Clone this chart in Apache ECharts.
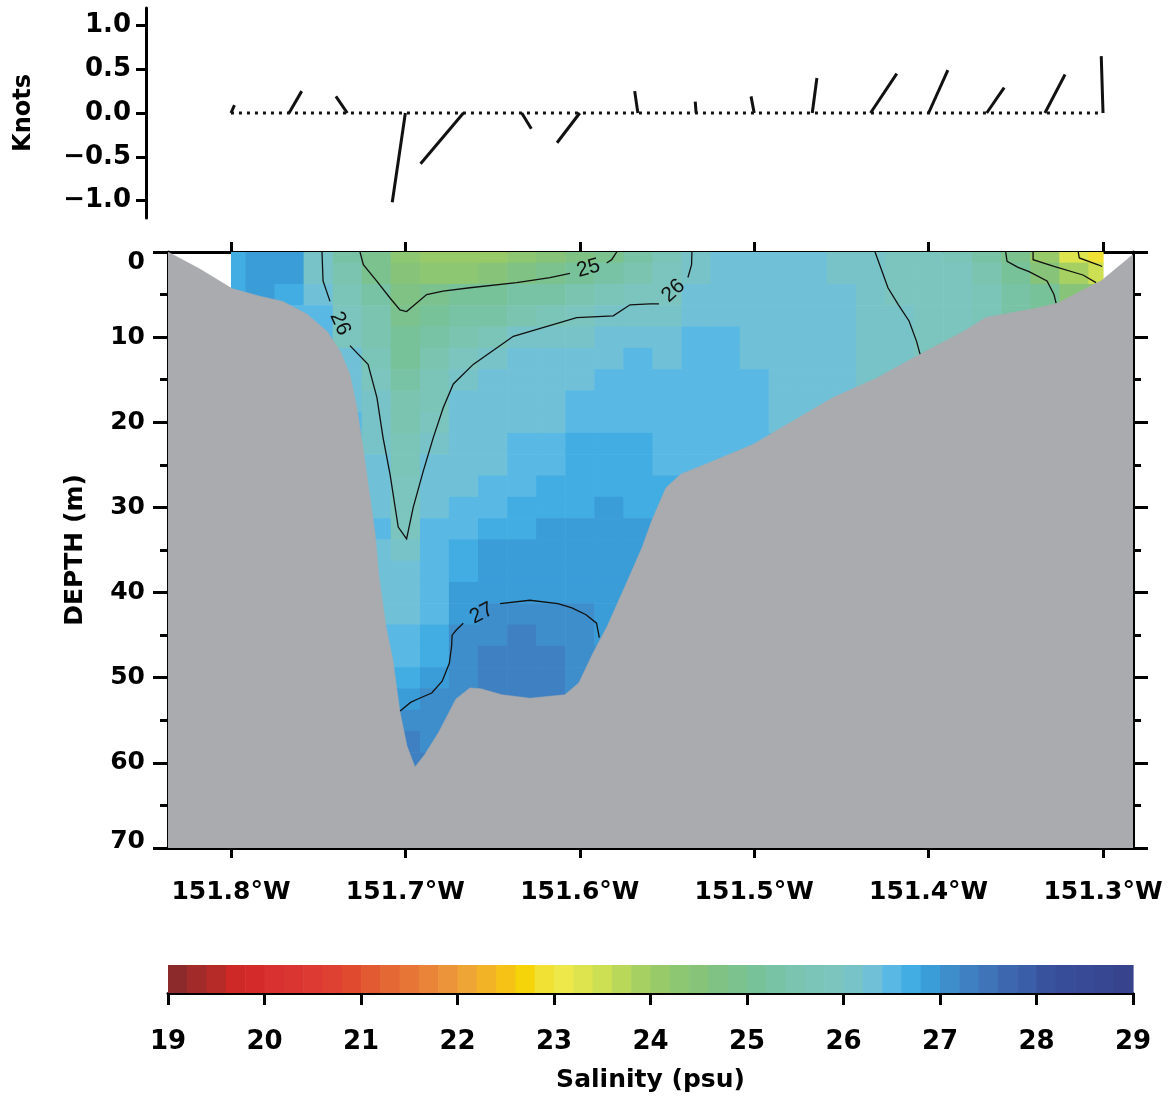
<!DOCTYPE html>
<html><head><meta charset="utf-8">
<script src="https://cdn.jsdelivr.net/npm/echarts@6/dist/echarts.min.js"></script>
<style>html,body{margin:0;padding:0;background:#fff}#chart{width:1171px;height:1099px}</style>
</head><body><div id="chart"></div>
<script>
// ================= DATA =================
// current sticks (top panel): station longitudes (deg W), east (u) and north (v) components in knots
const stationLon = [151.8, 151.7667, 151.7333, 151.7, 151.6667, 151.6333, 151.6, 151.5667,
                    151.5333, 151.5, 151.4667, 151.4333, 151.4, 151.3667, 151.3333, 151.3];
const currentU = [0.04, 0.145, -0.13, -0.15, -0.49, 0.11, -0.26, -0.036,
                  -0.01, -0.036, 0.053, 0.30, 0.22, 0.20, 0.23, -0.02];
const currentV = [0.09, 0.25, 0.19, -1.02, -0.58, -0.18, -0.34, 0.25,
                  0.13, 0.19, 0.40, 0.45, 0.49, 0.29, 0.44, 0.65];

// tick values
const knotTicks = [-1, -0.5, 0, 0.5, 1];
const lonTicks = [151.8, 151.7, 151.6, 151.5, 151.4, 151.3];

// salinity colour scale: 50 bins of 0.2 psu from 19 to 29
const salMin = 19, salStep = 0.2;
const salPalette = [
  '#8C2A2B','#A22A28','#B62B27','#CE2927','#D52A2A','#D93030','#DB3532','#DC3A33','#DE4131','#E04B30',
  '#E25A31','#E46834','#E67536','#E98438','#EC9439','#EFA535','#F2B426','#F5C215','#F5D40A','#F2E135',
  '#EEE84A','#DDE44E','#CDE053','#B9D85A','#A6D062','#98CA69','#8EC771','#87C47A','#80C283','#7BC28E',
  '#78C299','#78C3A5','#7AC4B0','#7BC4B8','#7CC5BE','#78C3C8','#70C1D7','#5AB8E4','#42ADE3','#3B9DD8',
  '#3E8ECC','#3E80C1','#3F74B8','#3D68AF','#3B5EA8','#39529D','#384D99','#384995','#374791','#37438C'
];

// salinity section grid: column longitudes (deg W), row depths (m)
const gridLon = [151.8, 151.7833, 151.7667, 151.75, 151.7333, 151.7167, 151.7, 151.6833, 151.6667,
  151.65, 151.6333, 151.6167, 151.6, 151.5833, 151.5667, 151.55, 151.5333, 151.5167, 151.5,
  151.4833, 151.4667, 151.45, 151.4333, 151.4167, 151.4, 151.3833, 151.3667, 151.35, 151.3333,
  151.3167, 151.3];
const gridDepth = [0, 2.5, 5, 7.5, 10, 12.5, 15, 17.5, 20, 22.5, 25, 27.5, 30, 32.5, 35, 37.5,
  40, 42.5, 45, 47.5, 50, 52.5, 55, 57.5, 60];
// salinity (psu), one list per column, from the surface down to the sea floor
const salinity = [
  [26.7, 26.7, 26.7],
  [26.9, 26.9, 26.9],
  [26.9, 26.9, 26.7, 26.5],
  [26.1, 26.1, 26.3, 26.5, 26.5],
  [25.3, 25.5, 25.7, 25.8, 25.9, 26.3, 26.3, 26.3, 26.5, 26.5],
  [24.9, 24.9, 25.2, 25.4, 25.5, 25.7, 25.9, 26.1, 26.1, 26.1, 26.3, 26.3, 26.3, 26.5, 26.3, 26.3, 26.3, 26.3, 26.5, 26.5],
  [24.3, 24.5, 24.7, 24.9, 25.1, 25.1, 25.3, 25.5, 25.5, 25.7, 25.7, 25.9, 25.9, 25.9, 26.1, 26.3, 26.3, 26.3, 26.5, 26.5, 26.7, 26.9, 27.1, 27.3, 27.3],
  [24.1, 24.3, 24.9, 25.1, 25.3, 25.5, 25.7, 25.7, 25.9, 26.1, 26.3, 26.3, 26.3, 26.5, 26.5, 26.5, 26.5, 26.5, 26.7, 26.7, 26.9, 27.1, 27.1, 27.1, 27.3],
  [24.1, 24.3, 25.1, 25.3, 25.5, 25.9, 26.1, 26.3, 26.3, 26.3, 26.3, 26.3, 26.5, 26.5, 26.7, 26.7, 26.9, 26.9, 27.1, 27.1, 27.1, 27.1, 27.1],
  [24.1, 24.5, 25.1, 25.3, 25.7, 26.1, 26.3, 26.3, 26.3, 26.3, 26.3, 26.5, 26.5, 26.7, 26.9, 26.9, 26.9, 27.1, 27.1, 27.3, 27.3, 27.3],
  [24.3, 24.7, 25.3, 25.5, 26.1, 26.3, 26.3, 26.3, 26.3, 26.5, 26.5, 26.5, 26.7, 26.7, 26.9, 26.9, 26.9, 27.1, 27.3, 27.3, 27.3, 27.3],
  [24.5, 24.9, 25.3, 25.7, 26.1, 26.3, 26.3, 26.3, 26.3, 26.5, 26.5, 26.7, 26.7, 26.9, 26.9, 26.9, 26.9, 27.1, 27.1, 27.3, 27.3, 27.3],
  [24.7, 25.1, 25.5, 25.9, 26.1, 26.3, 26.3, 26.5, 26.5, 26.7, 26.7, 26.7, 26.7, 26.9, 26.9, 26.9, 26.9, 27.1, 27.1, 27.1, 27.1, 27.1],
  [24.9, 25.3, 25.7, 26.1, 26.3, 26.3, 26.5, 26.5, 26.5, 26.7, 26.7, 26.7, 26.9, 26.9, 26.9, 26.9, 26.9, 26.9, 26.9, 27.1],
  [25.3, 25.5, 25.9, 26.1, 26.3, 26.5, 26.5, 26.5, 26.5, 26.7, 26.7, 26.7, 26.7, 26.9, 26.9, 26.9, 26.9],
  [25.7, 25.9, 25.9, 26.1, 26.3, 26.3, 26.5, 26.5, 26.5, 26.5, 26.5, 26.7, 26.7, 26.9],
  [26.1, 26.1, 26.3, 26.3, 26.5, 26.5, 26.5, 26.5, 26.5, 26.5, 26.5],
  [26.3, 26.3, 26.3, 26.3, 26.5, 26.5, 26.5, 26.5, 26.5, 26.5, 26.5],
  [26.3, 26.3, 26.3, 26.3, 26.3, 26.3, 26.5, 26.5, 26.5, 26.5],
  [26.3, 26.3, 26.3, 26.3, 26.3, 26.3, 26.3, 26.3, 26.3, 26.5],
  [26.3, 26.3, 26.3, 26.3, 26.3, 26.3, 26.3, 26.3, 26.3],
  [26.1, 26.1, 26.3, 26.3, 26.3, 26.3, 26.3, 26.3],
  [26.1, 26.1, 26.1, 26.1, 26.1, 26.1, 26.1],
  [25.9, 25.9, 25.9, 26.1, 26.1, 26.1, 26.1],
  [25.9, 25.9, 25.9, 25.9, 25.9, 25.9],
  [25.7, 25.9, 25.9, 25.9, 25.9],
  [25.3, 25.5, 25.7, 25.7, 25.7],
  [24.9, 25.1, 25.3, 25.3],
  [24.1, 24.5, 25.1, 25.1],
  [23.3, 23.9, 24.5],
  [22.9, 23.5, 24.3]
];

// sea floor profile
const bathyLon = [151.8361, 151.8178, 151.7994, 151.7834, 151.7702, 151.7564, 151.745, 151.7375,
  151.7318, 151.7278, 151.7243, 151.7203, 151.7174, 151.7151, 151.7111, 151.7071, 151.7031, 151.6991,
  151.6945, 151.6888, 151.6809, 151.671, 151.663, 151.6567, 151.6446, 151.6286, 151.6085, 151.6005,
  151.5924, 151.5844, 151.5741, 151.5643, 151.5588, 151.5506, 151.5421, 151.5276, 151.5007, 151.4841,
  151.4548, 151.4296, 151.4049, 151.3797, 151.3671, 151.3384, 151.3258, 151.3052, 151.3011, 151.2828];
const bathyDepth = [0, 2.0, 4.3, 5.2, 5.8, 7.3, 9.3, 11.6, 14.4, 18.3, 23.0, 28.8, 33.0, 38.2, 44.0,
  48.0, 54.0, 58.0, 60.5, 59.0, 56.4, 52.5, 51.2, 51.3, 52.0, 52.4, 52.0, 50.6, 47.1, 44.0, 39.3, 34.7,
  31.6, 27.7, 26.1, 24.9, 22.6, 20.6, 17.1, 14.8, 12.0, 9.3, 7.7, 6.6, 6.0, 3.8, 3.4, 0.3];

// contour lines [lon, depth]; a label sits in each gap between consecutive pieces
const contour26Main = [
  [[151.7478, 0], [151.7472, 3.4], [151.7432, 5.8]],
  [[151.7318, 11.0], [151.7214, 13.2], [151.7163, 17.1], [151.7128, 21.8], [151.7088, 26.1],
   [151.7041, 32.3], [151.6993, 33.7], [151.6955, 30.0], [151.6897, 25.7], [151.684, 21.8],
   [151.6783, 18.3], [151.6725, 15.5], [151.6611, 13.2], [151.6381, 9.9], [151.6018, 7.7],
   [151.5808, 7.5], [151.5712, 6.2], [151.5598, 6.1], [151.5546, 6.1]],
  [[151.538, 3.0], [151.5359, 1.5], [151.5357, 0]]
];
const contour25Main = [
  [[151.726, 0], [151.7241, 1.5], [151.7165, 3.4], [151.7088, 5.4], [151.7031, 6.8], [151.6993, 7.0],
   [151.6935, 6.0], [151.6878, 5.0], [151.6784, 4.6], [151.663, 4.2], [151.6362, 3.6], [151.6171, 3.0],
   [151.6056, 2.5]],
  [[151.5846, 1.3], [151.5817, 0.9], [151.5788, 0]]
];
const contour27 = [
  [[151.703, 53.9], [151.697, 52.9], [151.6929, 52.5], [151.6849, 51.8], [151.6789, 50.4],
   [151.6748, 48.3], [151.6735, 46.3], [151.6732, 45.0], [151.6708, 44.4], [151.6668, 43.6]],
  [[151.6457, 41.3], [151.6286, 40.9], [151.6125, 41.3], [151.6045, 41.8], [151.5964, 42.6],
   [151.5904, 43.6], [151.5888, 45.3]]
];
const contour26East = [[[151.4307, 0], [151.4233, 4.2], [151.4173, 6.2], [151.4112, 8.1], [151.4069, 10.5], [151.4049, 12.0]]];
const contour25East = [[[151.3558, 0], [151.355, 1.1], [151.3487, 1.8], [151.3424, 2.3], [151.3321, 3.4], [151.3281, 5.0], [151.3269, 6.0]]];
const contour24East = [[[151.3401, 0], [151.3401, 0.9], [151.3281, 1.7], [151.3115, 2.7], [151.304, 3.6]]];
const contour23East = [[[151.3142, 0], [151.3136, 0.7], [151.3028, 1.5], [151.3005, 1.7]]];
const contourSets = [
  {level: 26, pieces: contour26Main}, {level: 25, pieces: contour25Main}, {level: 27, pieces: contour27},
  {level: 26, pieces: contour26East}, {level: 25, pieces: contour25East},
  {level: 24, pieces: contour24East}, {level: 23, pieces: contour23East}
];

// ================= BUILD =================
const FONT = 'DejaVu Sans';
const bold = (size) => ({fontFamily: FONT, fontWeight: 'bold', fontSize: size, color: '#000'});
const LON_W = 151.8361, LON_E = 151.2828;
const axisLineStyle = {show: true, onZero: false, lineStyle: {color: '#000', width: 3}};

const halfW = Math.abs(gridLon[1] - gridLon[0]) / 2;
const halfH = (gridDepth[1] - gridDepth[0]) / 2;
const lonWest = gridLon[0], lonEast = gridLon[gridLon.length - 1];

const fieldData = [];
salinity.forEach((col, k) => col.forEach((s, j) => fieldData.push([gridLon[k], gridDepth[j], s])));

const pieces = salPalette.map((c, i) => ({
  gte: +(salMin + i * salStep).toFixed(2), lt: +(salMin + (i + 1) * salStep).toFixed(2), color: c
}));
const barData = salPalette.map((c, i) => {
  const lo = +(salMin + i * salStep).toFixed(2), hi = +(salMin + (i + 1) * salStep).toFixed(2);
  return [lo, hi, +((lo + hi) / 2).toFixed(2)];
});
const stickData = stationLon.map((l, i) => [l, currentU[i], currentV[i]]);

const chart = echarts.init(document.getElementById('chart'), null, {renderer: 'canvas'});
const option = {
  animation: false,
  backgroundColor: '#fff',
  grid: [
    {left: 168, right: 38, top: 8, height: 210},
    {left: 168, right: 38, top: 252, height: 596},
    {left: 168, right: 38, top: 965, height: 28}
  ],
  xAxis: [
    {gridIndex: 0, type: 'value', min: LON_E, max: LON_W, inverse: true, show: false},
    {gridIndex: 1, type: 'value', min: LON_E, max: LON_W, inverse: true, position: 'bottom',
      axisLine: axisLineStyle,
      axisTick: {customValues: lonTicks, length: 10, lineStyle: {color: '#000', width: 3}},
      axisLabel: Object.assign({customValues: lonTicks, margin: 32, formatter: v => v.toFixed(1) + '°W'}, bold(25)),
      splitLine: {show: false}},
    {gridIndex: 1, type: 'value', min: LON_E, max: LON_W, inverse: true, position: 'top',
      axisLine: axisLineStyle,
      axisTick: {customValues: lonTicks, length: 10, lineStyle: {color: '#000', width: 3}},
      axisLabel: {show: false}, splitLine: {show: false}},
    {gridIndex: 2, type: 'value', min: 19, max: 29, interval: 1, position: 'bottom',
      axisLine: axisLineStyle,
      axisTick: {length: 12, lineStyle: {color: '#000', width: 3}},
      axisLabel: Object.assign({margin: 36}, bold(26)),
      splitLine: {show: false},
      name: 'Salinity (psu)', nameLocation: 'middle', nameGap: 75, nameTextStyle: bold(25)}
  ],
  yAxis: [
    {gridIndex: 0, type: 'value', min: -1.2, max: 1.2, offset: 22,
      axisLine: axisLineStyle,
      axisTick: {customValues: knotTicks, length: 10, lineStyle: {color: '#000', width: 3}},
      axisLabel: Object.assign({customValues: knotTicks, margin: 15,
        formatter: v => v.toFixed(1).replace('-', '\u2212')}, bold(26)),
      splitLine: {show: false},
      name: 'Knots', nameLocation: 'middle', nameGap: 110, nameRotate: 90, nameTextStyle: bold(24)},
    {gridIndex: 1, type: 'value', min: 0, max: 70, interval: 10, inverse: true, position: 'left',
      axisLine: axisLineStyle,
      axisTick: {length: 15, lineStyle: {color: '#000', width: 3}},
      minorTick: {show: true, splitNumber: 2, length: 8, lineStyle: {color: '#000', width: 3}},
      axisLabel: Object.assign({margin: 23,
        formatter: v => v === 0 ? '{top|0}' : (v === 70 ? '{bot|70}' : String(v)),
        rich: {top: Object.assign({padding: [20, 0, 0, 0]}, bold(25)),
               bot: Object.assign({padding: [0, 0, 14, 0]}, bold(25))}}, bold(25)),
      splitLine: {show: false},
      name: 'DEPTH (m)', nameLocation: 'middle', nameGap: 80, nameRotate: 90, nameTextStyle: bold(25)},
    {gridIndex: 1, type: 'value', min: 0, max: 70, interval: 10, inverse: true, position: 'right',
      axisLine: axisLineStyle,
      axisTick: {length: 15, lineStyle: {color: '#000', width: 3}},
      minorTick: {show: true, splitNumber: 2, length: 8, lineStyle: {color: '#000', width: 3}},
      axisLabel: {show: false}, splitLine: {show: false}},
    {gridIndex: 2, type: 'value', min: 0, max: 1, show: false}
  ],
  visualMap: [{type: 'piecewise', show: false, dimension: 2, seriesIndex: [0, 5], pieces: pieces}],
  series: [
    { // 0: salinity field
      type: 'custom', xAxisIndex: 1, yAxisIndex: 1, z: 1, clip: true,
      encode: {x: 0, y: 1},
      data: fieldData,
      renderItem: (params, api) => {
        const lon = api.value(0), d = api.value(1);
        const lw = Math.min(lon + halfW, lonWest), le = Math.max(lon - halfW, lonEast);
        const p0 = api.coord([lw, Math.max(0, d - halfH)]);
        const p1 = api.coord([le, d + halfH]);
        return {type: 'rect',
          shape: {x: Math.min(p0[0], p1[0]), y: Math.min(p0[1], p1[1]),
                  width: Math.abs(p1[0] - p0[0]) + 0.6, height: Math.abs(p1[1] - p0[1]) + 0.6},
          style: {fill: api.visual('color')}};
      }
    },
    { // 1: sea floor
      type: 'line', xAxisIndex: 1, yAxisIndex: 1, z: 2, symbol: 'none', silent: true,
      data: bathyLon.map((l, i) => [l, bathyDepth[i]]),
      lineStyle: {width: 0.5, color: '#AAABAE'},
      areaStyle: {color: '#AAABAE', opacity: 1, origin: 'end'}
    },
    { // 2: contours
      type: 'custom', xAxisIndex: 1, yAxisIndex: 1, z: 3, clip: true,
      data: contourSets.map(s => [s.pieces[0][0][0], s.pieces[0][0][1]]),
      renderItem: (params, api) => {
        const set = contourSets[params.dataIndex];
        const children = [];
        const px = set.pieces.map(piece => piece.map(p => api.coord(p)));
        px.forEach(pts => children.push({type: 'polyline', shape: {points: pts},
          style: {stroke: '#111', lineWidth: 1.3, fill: null}}));
        for (let i = 0; i + 1 < px.length; i++) {
          const a = px[i][px[i].length - 1], b = px[i + 1][0];
          let dx = b[0] - a[0], dy = b[1] - a[1];
          if (dx < 0) { dx = -dx; dy = -dy; }
          children.push({type: 'text', x: (a[0] + b[0]) / 2, y: (a[1] + b[1]) / 2,
            rotation: -Math.atan2(dy, dx),
            style: {text: String(set.level), fontFamily: 'Liberation Sans', fontSize: 21,
                    fill: '#111', align: 'center', verticalAlign: 'middle'}});
        }
        return {type: 'group', children: children};
      }
    },
    { // 3: current sticks
      type: 'custom', xAxisIndex: 0, yAxisIndex: 0, z: 4,
      encode: {x: 0, y: 2},
      data: stickData,
      renderItem: (params, api) => {
        const base = api.coord([api.value(0), 0]);
        const ppk = api.size([0, 1])[1];
        return {type: 'line',
          shape: {x1: base[0], y1: base[1], x2: base[0] + api.value(1) * ppk, y2: base[1] - api.value(2) * ppk},
          style: {stroke: '#111', lineWidth: 3}};
      }
    },
    { // 4: zero line
      type: 'line', xAxisIndex: 0, yAxisIndex: 0, z: 3, symbol: 'none', silent: true,
      data: [[stationLon[0], 0], [stationLon[stationLon.length - 1], 0]],
      lineStyle: {color: '#111', width: 3, type: [3, 5]}
    },
    { // 5: colour bar
      type: 'custom', xAxisIndex: 3, yAxisIndex: 3, z: 1,
      encode: {x: [0, 1]},
      data: barData,
      renderItem: (params, api) => {
        const p0 = api.coord([api.value(0), 1]);
        const p1 = api.coord([api.value(1), 0]);
        return {type: 'rect',
          shape: {x: p0[0], y: p0[1], width: p1[0] - p0[0] + 0.6, height: p1[1] - p0[1]},
          style: {fill: api.visual('color')}};
      }
    }
  ]
};
chart.setOption(option);
</script>
</body></html>
